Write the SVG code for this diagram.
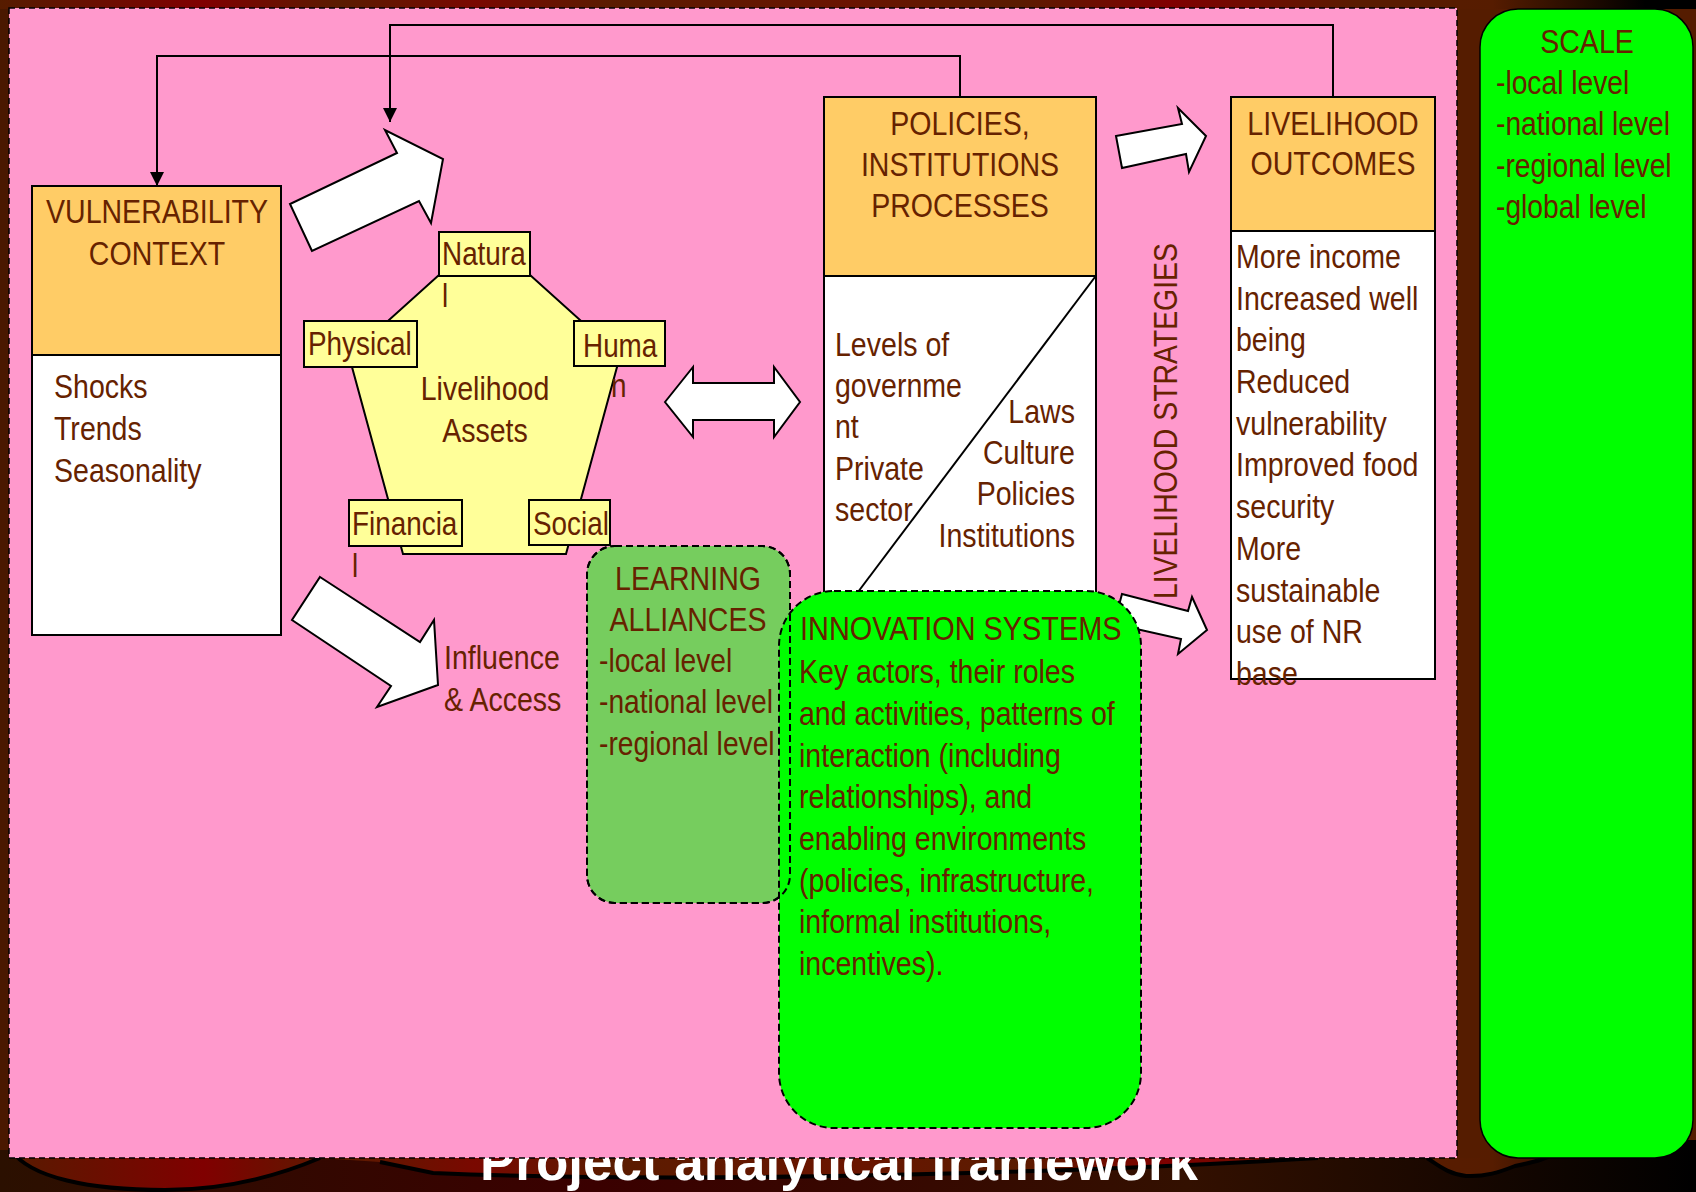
<svg xmlns="http://www.w3.org/2000/svg" width="1696" height="1192" viewBox="0 0 1696 1192">
<defs>
<linearGradient id="band" x1="0" y1="0" x2="1696" y2="0" gradientUnits="userSpaceOnUse">
<stop offset="0" stop-color="#561c00"/>
<stop offset="0.12" stop-color="#800000"/>
<stop offset="0.2" stop-color="#5a1c00"/>
<stop offset="0.28" stop-color="#7a0800"/>
<stop offset="0.36" stop-color="#5a1c00"/>
<stop offset="0.5" stop-color="#6a1400"/>
<stop offset="0.6" stop-color="#5a1c00"/>
<stop offset="0.69" stop-color="#800000"/>
<stop offset="0.8" stop-color="#5a1c00"/>
<stop offset="0.88" stop-color="#561c00"/>
<stop offset="0.97" stop-color="#000000"/>
</linearGradient>
<linearGradient id="dark" x1="0" y1="0" x2="1696" y2="0" gradientUnits="userSpaceOnUse">
<stop offset="0" stop-color="#2b1000"/>
<stop offset="0.35" stop-color="#3a0000"/>
<stop offset="0.7" stop-color="#331000"/>
<stop offset="1" stop-color="#000000"/>
</linearGradient>
<marker id="ah" markerWidth="16" markerHeight="16" refX="14" refY="7" orient="auto" markerUnits="userSpaceOnUse">
<path d="M0,0 L14,7 L0,14 Z" fill="#000"/>
</marker>
</defs>
<style>
.t{font-family:"Liberation Sans",Arial,sans-serif;font-size:34px;fill:#662200;}
.box{stroke:#000;stroke-width:2;}
.hdr{fill:#FFCC66;}
.wht{fill:#FFFFFF;}
.lab{fill:#FFFF99;stroke:#000;stroke-width:2;}
.blk{fill:#FFFFFF;stroke:#000;stroke-width:2;stroke-linejoin:miter;}
.ln{fill:none;stroke:#000;stroke-width:2;}
.dash{stroke:#000;stroke-width:2;stroke-dasharray:7 4;}
</style>

<g id="background">
<rect x="0" y="0" width="1696" height="1192" fill="#551c00"/>
<rect x="0" y="0" width="1696" height="9" fill="url(#band)"/>
<rect x="0" y="1140" width="1696" height="52" fill="url(#dark)"/>
<path d="M-5,1140 H1701 V1150 L1560,1150 C1550,1158 1535,1162 1515,1166 C1500,1172 1485,1177 1466,1176 C1448,1174 1438,1165 1427,1158 L1318,1158 C1250,1162 1150,1168 1000,1172 C800,1178 600,1180 433,1173 L380,1162 L320,1158 C280,1175 230,1190 165,1190 C90,1190 30,1178 11,1150 L-5,1150 Z" fill="url(#band)"/>
<path d="M11,1150 C30,1178 90,1190 165,1190 C230,1190 280,1175 320,1158 M380,1162 L433,1173 C600,1180 800,1178 1000,1172 C1150,1168 1250,1162 1318,1158 M1427,1158 C1438,1165 1448,1174 1466,1176 C1485,1177 1500,1172 1515,1166 C1535,1162 1550,1158 1560,1150" fill="none" stroke="#000" stroke-width="4"/>
<rect x="1457" y="9" width="23" height="1149" fill="#551c00"/>
<rect x="0" y="9" width="9" height="1141" fill="#4a1800"/>
<text x="480" y="1180" textLength="718" lengthAdjust="spacingAndGlyphs" style="font-family:'Liberation Sans',Arial,sans-serif;font-size:53px;font-weight:bold;fill:#FFFFFF;">Project analytical framework</text>
<rect x="9" y="8" width="1448" height="1150" fill="#FF99CC" stroke="#000" stroke-width="1.5" stroke-dasharray="6 4"/>
</g>

<g id="connectors">
<path class="ln" d="M1333,97 V25 H390 V122" marker-end="url(#ah)"/>
<path class="ln" d="M960,97 V56 H157 V186" marker-end="url(#ah)"/>
<polygon class="blk" points="312,251 290,204 397,153 385,130 443,159 431,223 419,201"/>
<polygon class="blk" points="320,577 420,642 434,620 438,685 377,707 391,686 292,620"/>
<polygon class="blk" points="665,402 693,367 693,383 774,383 774,367 800,402 774,437 774,420 693,420 693,437"/>
<polygon class="blk" points="1116,136 1182,124 1178,108 1206,136 1189,172 1186,154 1122,168"/>
<polygon class="blk" points="1122,594 1188,611 1192,597 1207,630 1178,654 1181,639 1114,624"/>
</g>

<g id="vulnerability">
<rect class="box hdr" x="32" y="186" width="249" height="169"/>
<rect class="box wht" x="32" y="355" width="249" height="280"/>
<text class="t" text-anchor="middle" transform="translate(157 0) scale(0.84 1)"><tspan x="0" y="223">VULNERABILITY</tspan><tspan x="0" y="265">CONTEXT</tspan></text>
<text class="t" transform="translate(54 0) scale(0.84 1)"><tspan x="0" y="398">Shocks</tspan><tspan x="0" y="440">Trends</tspan><tspan x="0" y="482">Seasonality</tspan></text>
</g>

<g id="assets">
<polygon points="484.5,234 620,356 566,554 403,554 349,356" fill="#FFFF99" stroke="#000" stroke-width="2"/>
<text class="t" text-anchor="middle" transform="translate(485 0) scale(0.84 1)"><tspan x="0" y="400">Livelihood</tspan><tspan x="0" y="442">Assets</tspan></text>
<g id="natural">
<rect class="lab" x="439" y="232" width="91" height="44"/>
<text class="t" transform="translate(442 0) scale(0.82 1)"><tspan x="0" y="265">Natura</tspan><tspan x="0" y="307">l</tspan></text>
</g>
<g id="physical">
<rect class="lab" x="304" y="321" width="113" height="46"/>
<text class="t" transform="translate(308 0) scale(0.82 1)"><tspan x="0" y="355">Physical</tspan></text>
</g>
<g id="human">
<rect class="lab" x="574" y="321" width="91" height="45"/>
<text class="t" transform="translate(583 0) scale(0.82 1)"><tspan x="0" y="357">Huma</tspan></text>
<text class="t" transform="translate(611 0) scale(0.82 1)"><tspan x="0" y="397">n</tspan></text>
</g>
<g id="financial">
<rect class="lab" x="349" y="500" width="113" height="46"/>
<text class="t" transform="translate(352 0) scale(0.82 1)"><tspan x="0" y="535">Financia</tspan><tspan x="0" y="577">l</tspan></text>
</g>
<g id="social">
<rect class="lab" x="529" y="500" width="81" height="45"/>
<text class="t" transform="translate(533 0) scale(0.82 1)"><tspan x="0" y="535">Social</tspan></text>
</g>
</g>

<g id="influence-label">
<text class="t" transform="translate(444 0) scale(0.84 1)"><tspan x="0" y="669">Influence</tspan><tspan x="0" y="711">&amp; Access</tspan></text>
</g>

<g id="policies">
<rect class="box hdr" x="824" y="97" width="272" height="179"/>
<rect class="box wht" x="824" y="276" width="272" height="344"/>
<line class="ln" x1="1095" y1="277" x2="858" y2="592"/>
<text class="t" text-anchor="middle" transform="translate(960 0) scale(0.84 1)"><tspan x="0" y="135">POLICIES,</tspan><tspan x="0" y="176">INSTITUTIONS</tspan><tspan x="0" y="217">PROCESSES</tspan></text>
<text class="t" transform="translate(835 0) scale(0.84 1)"><tspan x="0" y="356">Levels of</tspan><tspan x="0" y="397">governme</tspan><tspan x="0" y="438">nt</tspan><tspan x="0" y="480">Private</tspan><tspan x="0" y="521">sector</tspan></text>
<text class="t" text-anchor="end" transform="translate(1075 0) scale(0.84 1)"><tspan x="0" y="423">Laws</tspan><tspan x="0" y="464">Culture</tspan><tspan x="0" y="505">Policies</tspan><tspan x="0" y="547">Institutions</tspan></text>
</g>

<g id="strategies">
<text class="t" transform="translate(1177 599) rotate(-90) scale(0.835 1)"><tspan x="0" y="0">LIVELIHOOD STRATEGIES</tspan></text>
</g>

<g id="outcomes">
<rect class="box hdr" x="1231" y="97" width="204" height="134"/>
<rect class="box wht" x="1231" y="231" width="204" height="448"/>
<text class="t" text-anchor="middle" transform="translate(1333 0) scale(0.84 1)"><tspan x="0" y="135">LIVELIHOOD</tspan><tspan x="0" y="175">OUTCOMES</tspan></text>
<text class="t" transform="translate(1236 0) scale(0.84 1)"><tspan x="0" y="268">More income</tspan><tspan x="0" y="310">Increased well</tspan><tspan x="0" y="351">being</tspan><tspan x="0" y="393">Reduced</tspan><tspan x="0" y="435">vulnerability</tspan><tspan x="0" y="476">Improved food</tspan><tspan x="0" y="518">security</tspan><tspan x="0" y="560">More</tspan><tspan x="0" y="602">sustainable</tspan><tspan x="0" y="643">use of NR</tspan><tspan x="0" y="685">base</tspan></text>
</g>

<g id="learning">
<rect class="dash" x="587" y="546" width="203" height="357" rx="28" fill="#76CD5E"/>
<text class="t" text-anchor="middle" transform="translate(688 0) scale(0.84 1)"><tspan x="0" y="590">LEARNING</tspan><tspan x="0" y="631">ALLIANCES</tspan></text>
<text class="t" transform="translate(599 0) scale(0.83 1)"><tspan x="0" y="672">-local level</tspan><tspan x="0" y="713">-national level</tspan><tspan x="0" y="755">-regional level</tspan></text>
</g>

<g id="innovation">
<rect class="dash" x="779" y="591" width="362" height="537" rx="55" fill="#00FF00"/>
<text class="t" transform="translate(800 0) scale(0.85 1)"><tspan x="0" y="640">INNOVATION SYSTEMS</tspan></text>
<text class="t" transform="translate(799 0) scale(0.84 1)"><tspan x="0" y="683">Key actors, their roles</tspan><tspan x="0" y="725">and activities, patterns of</tspan><tspan x="0" y="767">interaction (including</tspan><tspan x="0" y="808">relationships), and</tspan><tspan x="0" y="850">enabling environments</tspan><tspan x="0" y="892">(policies, infrastructure,</tspan><tspan x="0" y="933">informal institutions,</tspan><tspan x="0" y="975">incentives).</tspan></text>
</g>
<rect class="dash" x="587" y="546" width="203" height="357" rx="28" fill="none"/>

<g id="scale">
<rect x="1480" y="9" width="213" height="1149" rx="38" fill="#00FF00" stroke="#000" stroke-width="1.5"/>
<text class="t" text-anchor="middle" transform="translate(1587 0) scale(0.84 1)"><tspan x="0" y="53">SCALE</tspan></text>
<text class="t" transform="translate(1496 0) scale(0.83 1)"><tspan x="0" y="94">-local level</tspan><tspan x="0" y="135">-national level</tspan><tspan x="0" y="177">-regional level</tspan><tspan x="0" y="218">-global level</tspan></text>
</g>
</svg>
